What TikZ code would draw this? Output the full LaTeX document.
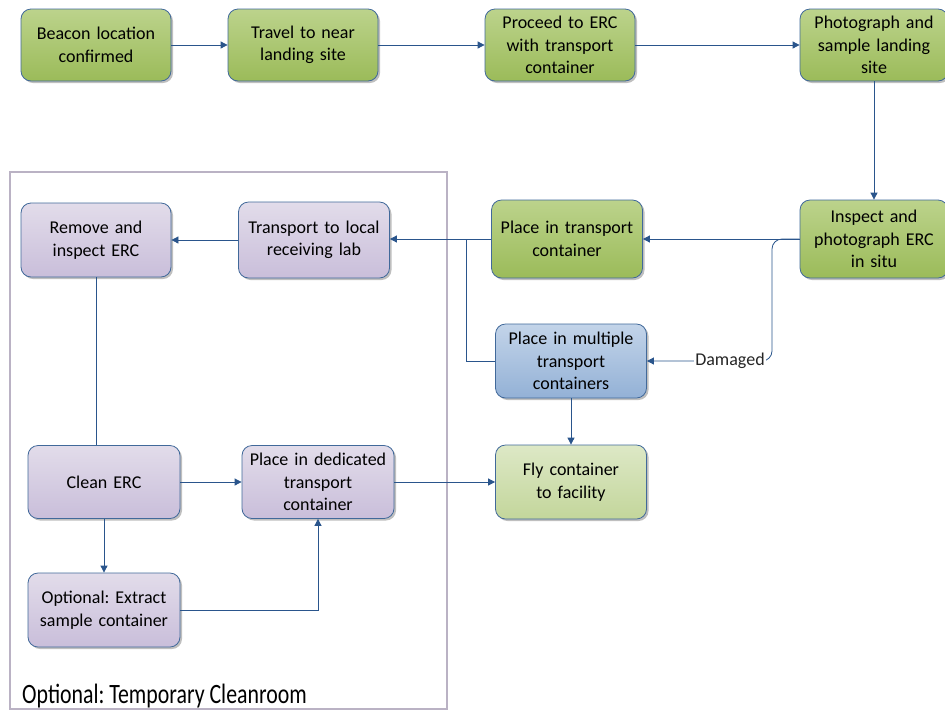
\documentclass[tikz,border=0pt]{standalone}
\usepackage{fontspec}
\setmainfont{Carlito}
\usetikzlibrary{arrows.meta,shadows,calc}
\definecolor{gtop}{HTML}{BCD38C}
\definecolor{gbot}{HTML}{9BBB59}
\definecolor{ptop}{HTML}{E2DCEA}
\definecolor{pbot}{HTML}{C9BEDA}
\definecolor{btop}{HTML}{C3D4E9}
\definecolor{bbot}{HTML}{93B1D6}
\definecolor{ltop}{HTML}{DDE8C6}
\definecolor{lbot}{HTML}{C3D69B}
\definecolor{bord}{HTML}{41699A}
\definecolor{arrc}{HTML}{2A558C}
\definecolor{frame}{HTML}{BAB2C4}
\tikzset{
  box/.style={draw=bord, line width=0.8pt, rounded corners=10pt, align=center,
    font=\fontsize{18}{22.5}\selectfont, inner sep=2pt,
    drop shadow={shadow xshift=2pt, shadow yshift=-2pt, opacity=0.25, fill=black}},
  green/.style={box, top color=gtop, bottom color=gbot},
  purp/.style={box, top color=ptop, bottom color=pbot},
  blu/.style={box, top color=btop, bottom color=bbot},
  lgreen/.style={box, top color=ltop, bottom color=lbot},
  conn/.style={draw=arrc, line width=0.8pt},
  arr/.style={conn, -{Triangle[length=7pt,width=7pt]}},
}
\begin{document}
\frenchspacing
\begin{tikzpicture}[x=1pt,y=-1pt]
\useasboundingbox (0,0) rectangle (945,713);
\fill[white] (0,0) rectangle (945,713);
% cleanroom frame
\draw[frame, line width=2.8pt] (10,172) rectangle (447,709);
\node[anchor=base west, inner sep=0pt, text=black] (lab) at (22,703)
  {\scalebox{0.78}[1]{\fontsize{28}{30}\selectfont Optional: Temporary Cleanroom}};
% boxes
\node[green, minimum width=150pt, minimum height=72pt, text width=140pt] (b1) at (96,45) {Beacon location\\confirmed};
\node[green, minimum width=150pt, minimum height=72pt, text width=140pt] (b2) at (303,45) {Travel to near\\landing site};
\node[green, minimum width=150pt, minimum height=72pt, text width=140pt] (b3) at (560,45) {Proceed to ERC\\with transport\\container};
\node[green, minimum width=148pt, minimum height=72pt, text width=140pt] (b4) at (874,45) {Photograph and\\sample landing\\site};
\node[green, minimum width=148pt, minimum height=78pt, text width=140pt] (b5) at (874,239) {Inspect and\\photograph ERC\\in situ};
\node[green, minimum width=151pt, minimum height=78pt, text width=145pt] (b6) at (567,239) {Place in transport\\container};
\node[blu, minimum width=151pt, minimum height=74pt, text width=140pt] (b7) at (571,361) {Place in multiple\\transport\\containers};
\node[purp, minimum width=151pt, minimum height=76pt, text width=145pt] (b8) at (314,240) {Transport to local\\receiving lab};
\node[purp, minimum width=150pt, minimum height=74pt, text width=140pt] (b9) at (96,240) {Remove and\\inspect ERC};
\node[purp, minimum width=152pt, minimum height=73pt, text width=140pt] (b10) at (104,482) {Clean ERC};
\node[purp, minimum width=152pt, minimum height=73pt, text width=146pt] (b11) at (318,482) {Place in dedicated\\transport\\container};
\node[purp, minimum width=152pt, minimum height=74pt, text width=145pt] (b12) at (104,610) {Optional: Extract\\sample container};
\node[lgreen, minimum width=151pt, minimum height=74pt, text width=140pt] (b13) at (571,482) {Fly container\\to facility};
% connectors
\draw[arr] (b1) -- (b2);
\draw[arr] (b2) -- (b3);
\draw[arr] (b3) -- (b4);
\draw[arr] (b4) -- (b5);
\draw[arr] (b5) -- (b6);
\coordinate (dk) at (772,300);
\draw[arr, rounded corners=10pt] (b5.west) -| (dk) |- (b7.east);
\node[fill=white, inner sep=1pt, font=\fontsize{18}{20}\selectfont, text=black!85] (dmg) at (730,361) {Damaged};
\draw[arr] (b6.west) -- (b6.west -| b8.east);
\coordinate (j) at (466,239);
\draw[conn] (b7.west) -| (j);
\draw[arr] (b8) -- (b9);
\draw[conn] (b9.south) -- (b9.south |- b10.north);
\draw[arr] (b10) -- (b11);
\draw[arr] (b10) -- (b12);
\draw[arr] (b12.east) -| (b11.south);
\draw[arr] (b11) -- (b13);
\draw[arr] (b7) -- (b13);
\end{tikzpicture}
\end{document}
